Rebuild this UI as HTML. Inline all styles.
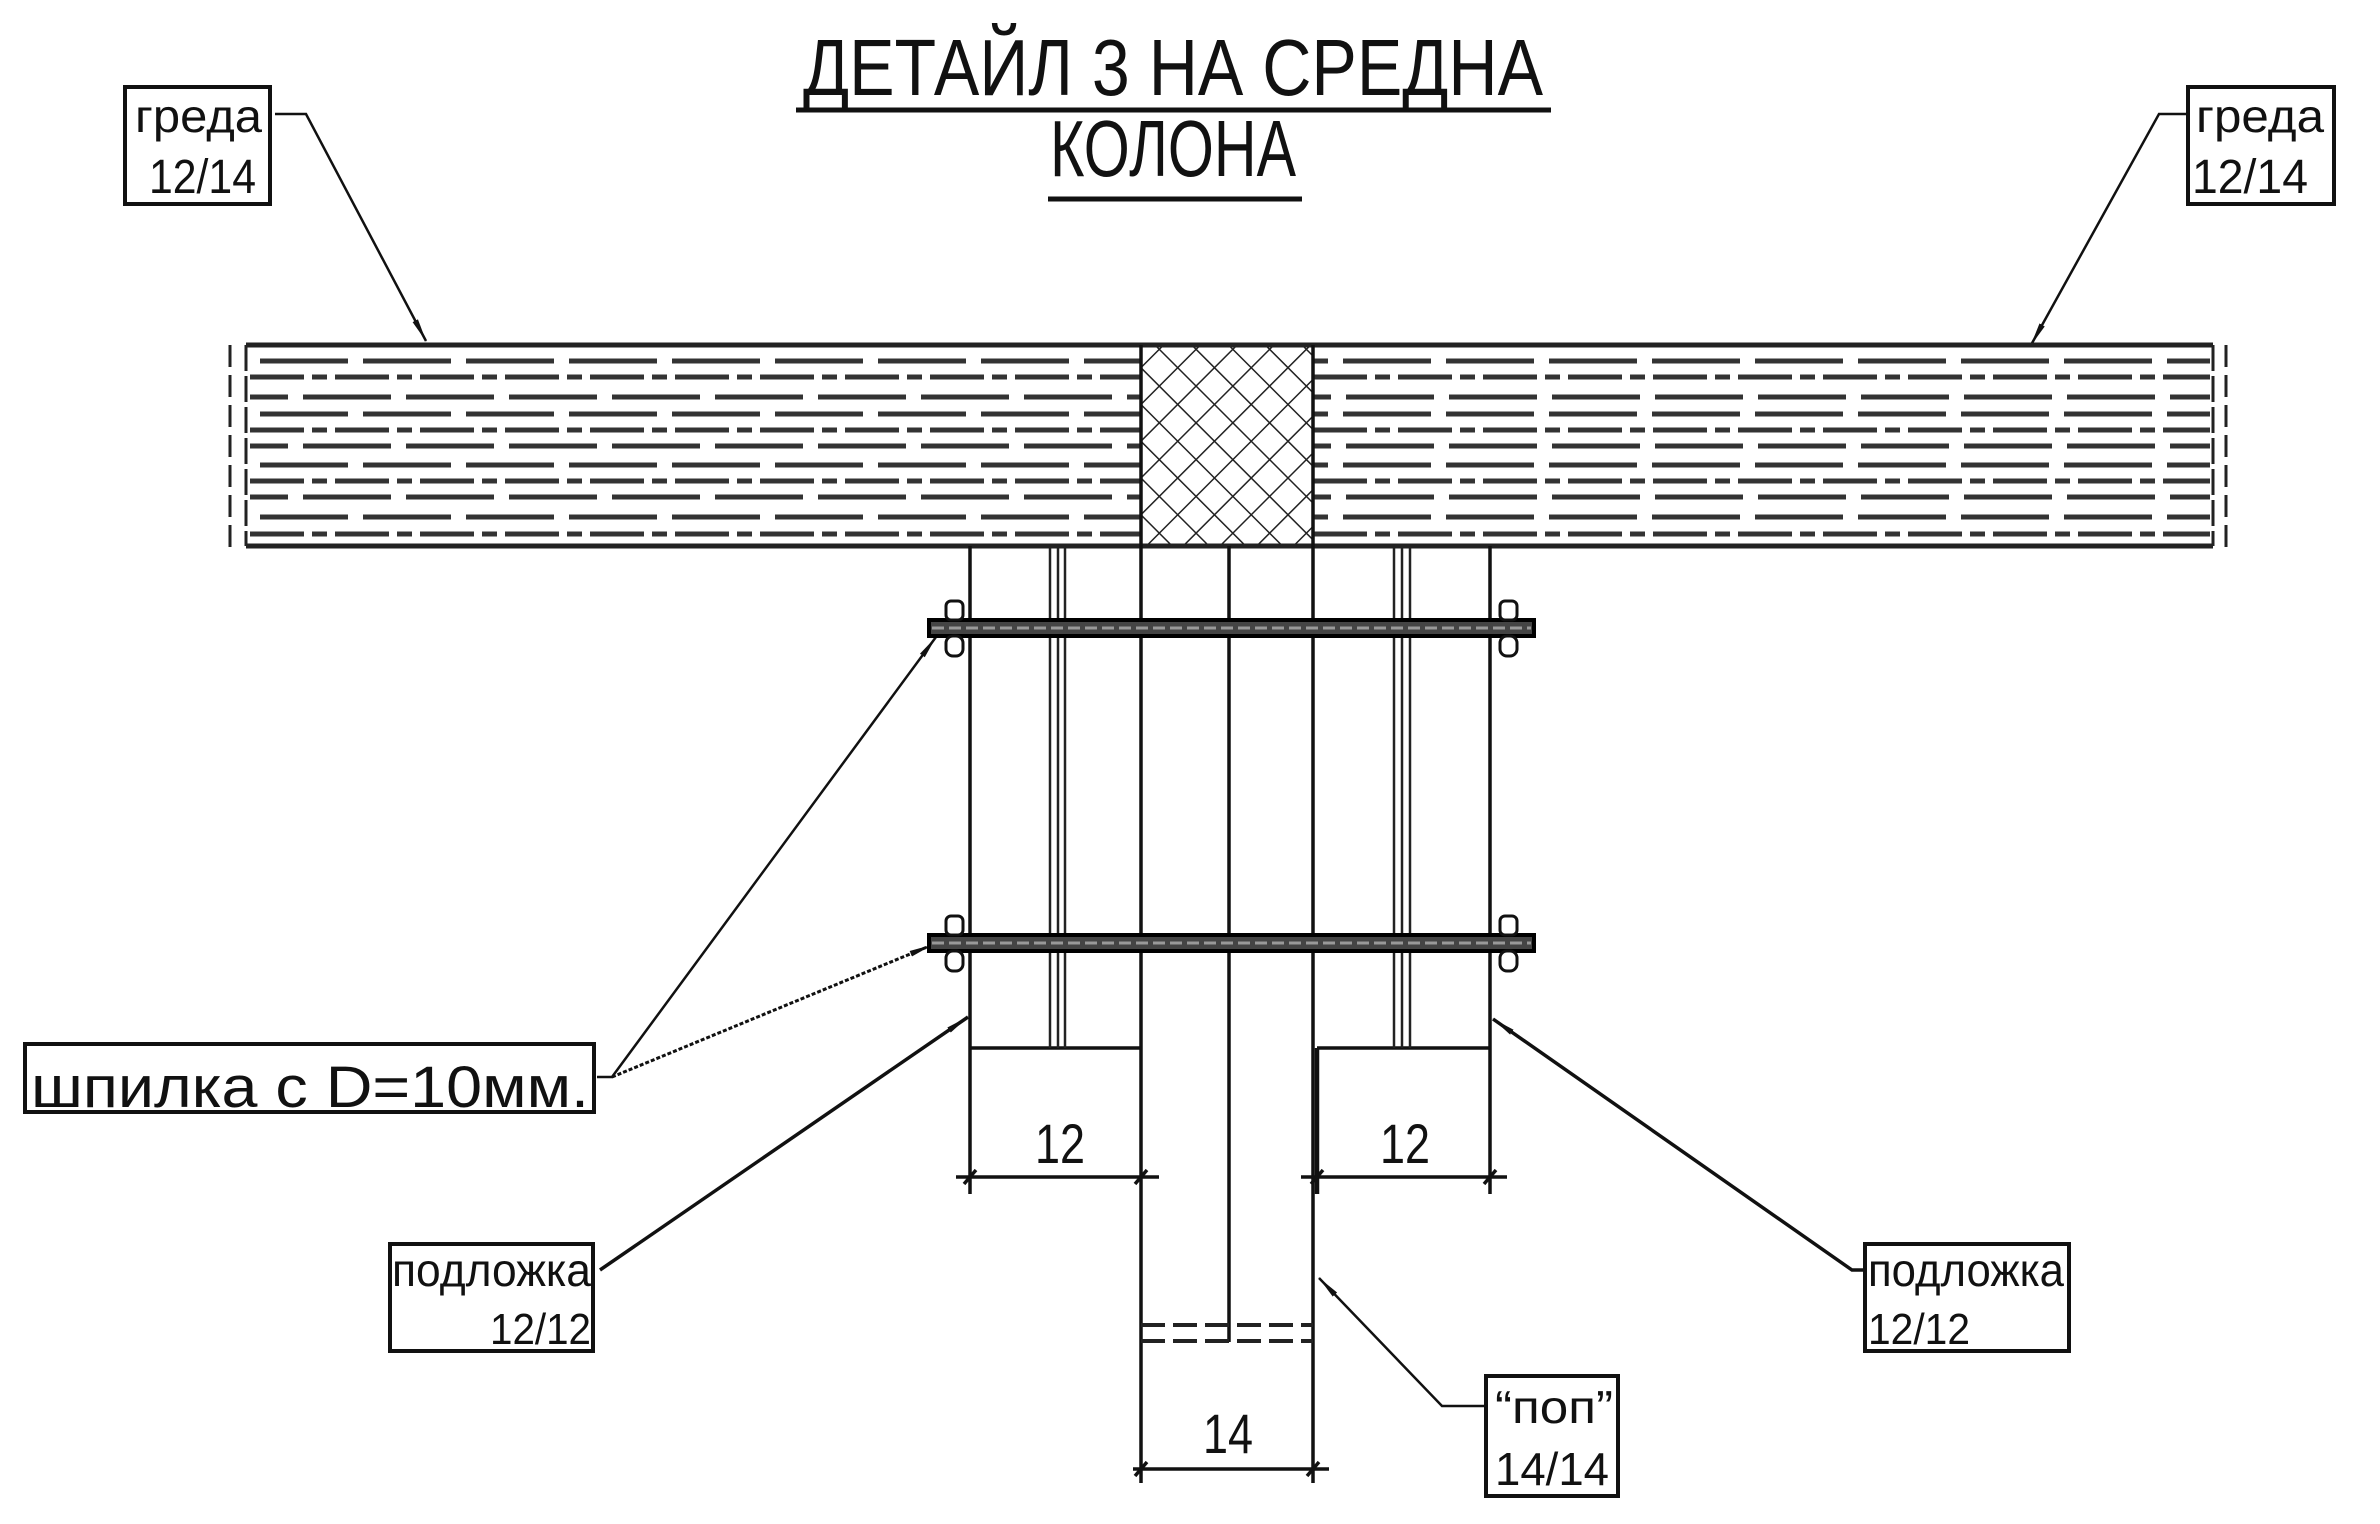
<!DOCTYPE html>
<html><head><meta charset="utf-8"><style>html,body{margin:0;padding:0;background:#fff}svg{display:block}text{font-family:"Liberation Sans",sans-serif;fill:#111}</style></head>
<body>
<svg width="2380" height="1524" viewBox="0 0 2380 1524" xmlns="http://www.w3.org/2000/svg">
<defs>
<pattern id="h1" width="26" height="26" patternUnits="userSpaceOnUse" patternTransform="rotate(45)"><line x1="0" y1="0" x2="0" y2="26" stroke="#222" stroke-width="3"/></pattern>
<pattern id="h2" width="26" height="26" patternUnits="userSpaceOnUse" patternTransform="rotate(-45)"><line x1="0" y1="0" x2="0" y2="26" stroke="#222" stroke-width="3"/></pattern>
<marker id="ar" markerWidth="24" markerHeight="10" refX="23" refY="5" orient="auto" markerUnits="userSpaceOnUse"><path d="M0,2 L24,5 L0,8 Z" fill="#111"/></marker>
</defs>

<!-- Title -->
<text x="803" y="95" font-size="80" textLength="740" lengthAdjust="spacingAndGlyphs">ДЕТАЙЛ 3  НА СРЕДНА</text>
<line x1="796" y1="110" x2="1551" y2="110" stroke="#111" stroke-width="5"/>
<text x="1050" y="176" font-size="80" textLength="246" lengthAdjust="spacingAndGlyphs">КОЛОНА</text>
<line x1="1048" y1="199" x2="1302" y2="199" stroke="#111" stroke-width="5"/>

<!-- label boxes -->
<g fill="none" stroke="#111" stroke-width="4">
<rect x="125" y="87" width="145" height="117"/>
<rect x="2188" y="87" width="146" height="117"/>
<rect x="25" y="1044" width="569" height="68"/>
<rect x="390" y="1244" width="203" height="107"/>
<rect x="1865" y="1244" width="204" height="107"/>
<rect x="1486" y="1376" width="132" height="120"/>
</g>
<text x="135" y="132" font-size="46" textLength="127" lengthAdjust="spacingAndGlyphs">греда</text>
<text x="149" y="193" font-size="48" textLength="107" lengthAdjust="spacingAndGlyphs">12/14</text>
<text x="2196" y="132" font-size="46" textLength="128" lengthAdjust="spacingAndGlyphs">греда</text>
<text x="2192" y="193" font-size="48" textLength="116" lengthAdjust="spacingAndGlyphs">12/14</text>
<text x="31" y="1107" font-size="58" textLength="558" lengthAdjust="spacingAndGlyphs">шпилка  с  D=10мм.</text>
<text x="392" y="1286" font-size="46" textLength="199" lengthAdjust="spacingAndGlyphs">подложка</text>
<text x="490" y="1344" font-size="44" textLength="101" lengthAdjust="spacingAndGlyphs">12/12</text>
<text x="1868" y="1286" font-size="46" textLength="196" lengthAdjust="spacingAndGlyphs">подложка</text>
<text x="1868" y="1344" font-size="44" textLength="102" lengthAdjust="spacingAndGlyphs">12/12</text>
<text x="1495" y="1423" font-size="46" textLength="118" lengthAdjust="spacingAndGlyphs">“поп”</text>
<text x="1495" y="1485" font-size="46" textLength="114" lengthAdjust="spacingAndGlyphs">14/14</text>

<!-- leaders -->
<g fill="none" stroke="#111" stroke-width="2.5">
<polyline points="275,114 306,114 426,341" marker-end="url(#ar)"/>
<polyline points="2188,114 2159,114 2031,345" marker-end="url(#ar)"/>
<polyline points="597,1077 612,1077 936,637" marker-end="url(#ar)"/>
<polyline points="612,1077 932,945" stroke-dasharray="4 2" stroke-width="3" marker-end="url(#ar)"/>
<polyline points="600,1270 968,1017" stroke-width="3.5" marker-end="url(#ar)"/>
<polyline points="1865,1270 1852,1270 1493,1019" stroke-width="3.5" marker-end="url(#ar)"/>
<polyline points="1486,1406 1442,1406 1319,1278" marker-end="url(#ar)"/>
</g>

<!-- beam -->
<g stroke="#222" stroke-width="5" fill="none">
<line x1="246" y1="345" x2="2213" y2="345"/>
<line x1="246" y1="546" x2="2213" y2="546"/>
</g>
<g stroke="#222" stroke-width="3" fill="none">
<line x1="230" y1="345" x2="230" y2="550" stroke-dasharray="22 8"/>
<line x1="246" y1="345" x2="246" y2="546" stroke-dasharray="26 5"/>
<line x1="2213" y1="345" x2="2213" y2="546" stroke-dasharray="26 5"/>
<line x1="2226" y1="345" x2="2226" y2="550" stroke-dasharray="22 8"/>
</g>
<g stroke="#333" stroke-width="5" fill="none">
<g stroke-dasharray="88 15">
<line x1="250" y1="361" x2="1141" y2="361" stroke-dashoffset="-10"/>
<line x1="1313" y1="361" x2="2210" y2="361" stroke-dashoffset="-30"/>
<line x1="250" y1="414" x2="1141" y2="414" stroke-dashoffset="-10"/>
<line x1="1313" y1="414" x2="2210" y2="414" stroke-dashoffset="-30"/>
<line x1="250" y1="465" x2="1141" y2="465" stroke-dashoffset="-10"/>
<line x1="1313" y1="465" x2="2210" y2="465" stroke-dashoffset="-30"/>
<line x1="250" y1="517" x2="1141" y2="517" stroke-dashoffset="-10"/>
<line x1="1313" y1="517" x2="2210" y2="517" stroke-dashoffset="-30"/>
<line x1="250" y1="397" x2="1141" y2="397" stroke-dashoffset="50"/>
<line x1="1313" y1="397" x2="2210" y2="397" stroke-dashoffset="70"/>
<line x1="250" y1="446" x2="1141" y2="446" stroke-dashoffset="50"/>
<line x1="1313" y1="446" x2="2210" y2="446" stroke-dashoffset="70"/>
<line x1="250" y1="497" x2="1141" y2="497" stroke-dashoffset="50"/>
<line x1="1313" y1="497" x2="2210" y2="497" stroke-dashoffset="70"/>
</g>
<g stroke-dasharray="54 8 15 8">
<line x1="250" y1="377" x2="1141" y2="377"/>
<line x1="1313" y1="377" x2="2210" y2="377"/>
<line x1="250" y1="430" x2="1141" y2="430"/>
<line x1="1313" y1="430" x2="2210" y2="430"/>
<line x1="250" y1="481" x2="1141" y2="481"/>
<line x1="1313" y1="481" x2="2210" y2="481"/>
<line x1="250" y1="534" x2="1141" y2="534"/>
<line x1="1313" y1="534" x2="2210" y2="534"/>
</g>
</g>
<!-- column crosshatch -->
<rect x="1141" y="345" width="172" height="201" fill="url(#h1)"/>
<rect x="1141" y="345" width="172" height="201" fill="url(#h2)"/>

<!-- column and posts -->
<g stroke="#111" stroke-width="3.5" fill="none">
<line x1="1141" y1="345" x2="1141" y2="1483"/>
<line x1="1313" y1="345" x2="1313" y2="1483"/>
<line x1="1229" y1="546" x2="1229" y2="1342"/>
<line x1="970" y1="546" x2="970" y2="1194"/>
<line x1="1490" y1="546" x2="1490" y2="1194"/>
<line x1="970" y1="1048" x2="1141" y2="1048"/>
<line x1="1317" y1="1048" x2="1490" y2="1048"/>
<line x1="1317" y1="1048" x2="1317" y2="1194" stroke-width="4.5"/>
</g>
<g stroke="#222" stroke-width="2.5">
<line x1="1050" y1="546" x2="1050" y2="1048"/><line x1="1058" y1="546" x2="1058" y2="1048"/><line x1="1065" y1="546" x2="1065" y2="1048"/>
<line x1="1394" y1="546" x2="1394" y2="1048"/><line x1="1402" y1="546" x2="1402" y2="1048"/><line x1="1410" y1="546" x2="1410" y2="1048"/>
</g>
<g stroke="#222" stroke-width="4" stroke-dasharray="24 8">
<line x1="1141" y1="1325" x2="1313" y2="1325"/>
<line x1="1141" y1="1341" x2="1313" y2="1341"/>
</g>

<!-- dimensions -->
<g stroke="#111" stroke-width="3.5">
<line x1="956" y1="1177" x2="1159" y2="1177"/>
<line x1="1301" y1="1177" x2="1507" y2="1177"/>
<line x1="1133" y1="1469" x2="1329" y2="1469"/>
<line x1="964" y1="1184" x2="976" y2="1170"/><line x1="1135" y1="1184" x2="1147" y2="1170"/>
<line x1="1311" y1="1184" x2="1323" y2="1170"/><line x1="1484" y1="1184" x2="1496" y2="1170"/>
<line x1="1135" y1="1476" x2="1147" y2="1462"/><line x1="1307" y1="1476" x2="1319" y2="1462"/>
</g>
<text x="1060" y="1163" font-size="56" text-anchor="middle" textLength="50" lengthAdjust="spacingAndGlyphs">12</text>
<text x="1405" y="1163" font-size="56" text-anchor="middle" textLength="50" lengthAdjust="spacingAndGlyphs">12</text>
<text x="1228" y="1453" font-size="56" text-anchor="middle" textLength="50" lengthAdjust="spacingAndGlyphs">14</text>

<!-- bolts -->
<g>
<rect x="929" y="620" width="605" height="16" fill="#444" stroke="#000" stroke-width="4"/>
<line x1="932" y1="628" x2="1531" y2="628" stroke="#999" stroke-width="3" stroke-dasharray="12 5"/>
<rect x="929" y="935" width="605" height="16" fill="#444" stroke="#000" stroke-width="4"/>
<line x1="932" y1="943" x2="1531" y2="943" stroke="#999" stroke-width="3" stroke-dasharray="12 5"/>
<g fill="#fff" stroke="#111" stroke-width="3">
<rect x="946" y="601" width="17" height="19" rx="5"/><rect x="946" y="636" width="17" height="20" rx="7"/>
<rect x="1500" y="601" width="17" height="19" rx="5"/><rect x="1500" y="636" width="17" height="20" rx="7"/>
<rect x="946" y="916" width="17" height="19" rx="5"/><rect x="946" y="951" width="17" height="20" rx="7"/>
<rect x="1500" y="916" width="17" height="19" rx="5"/><rect x="1500" y="951" width="17" height="20" rx="7"/>
</g>
</g>
</svg>
</body></html>
